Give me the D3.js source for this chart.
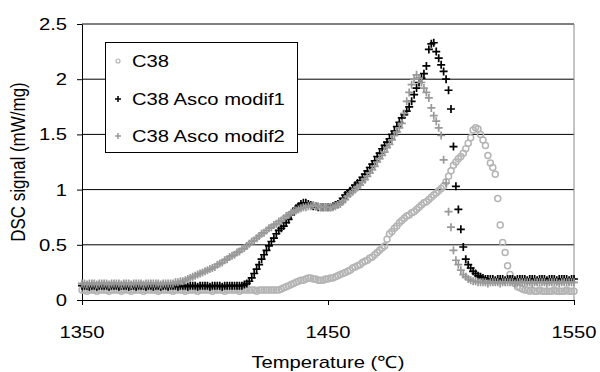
<!DOCTYPE html>
<html><head><meta charset="utf-8">
<script src="https://cdn.jsdelivr.net/npm/d3@7"></script>
<style>body{margin:0;background:#fff}svg{display:block}text{font-family:"Liberation Sans",Arial,sans-serif;fill:#000}</style>
</head><body><svg id="c" width="600" height="372"></svg>
<script>
const temperature = [
1350,1351,1352,1353,1354,1355,1356,1357,1358,1359,
1360,1361,1362,1363,1364,1365,1366,1367,1368,1369,
1370,1371,1372,1373,1374,1375,1376,1377,1378,1379,
1380,1381,1382,1383,1384,1385,1386,1387,1388,1389,
1390,1391,1392,1393,1394,1395,1396,1397,1398,1399,
1400,1401,1402,1403,1404,1405,1406,1407,1408,1409,
1410,1411,1412,1413,1414,1415,1416,1417,1418,1419,
1420,1421,1422,1423,1424,1425,1426,1427,1428,1429,
1430,1431,1432,1433,1434,1435,1436,1437,1438,1439,
1440,1441,1442,1443,1444,1445,1446,1447,1448,1449,
1450,1451,1452,1453,1454,1455,1456,1457,1458,1459,
1460,1461,1462,1463,1464,1465,1466,1467,1468,1469,
1470,1471,1472,1473,1474,1475,1476,1477,1478,1479,
1480,1481,1482,1483,1484,1485,1486,1487,1488,1489,
1490,1491,1492,1493,1494,1495,1496,1497,1498,1499,
1500,1501,1502,1503,1504,1505,1506,1507,1508,1509,
1510,1511,1512,1513,1514,1515,1516,1517,1518,1519,
1520,1521,1522,1523,1524,1525,1526,1527,1528,1529,
1530,1531,1532,1533,1534,1535,1536,1537,1538,1539,
1540,1541,1542,1543,1544,1545,1546,1547,1548,1549,
1550];

const c38 = [
0.09,0.09,0.08,0.09,0.09,0.09,0.08,0.09,0.09,0.09,
0.09,0.08,0.09,0.09,0.09,0.09,0.08,0.09,0.09,0.09,
0.08,0.09,0.09,0.09,0.09,0.08,0.09,0.09,0.09,0.09,
0.09,0.08,0.09,0.09,0.09,0.09,0.09,0.08,0.09,0.09,
0.09,0.09,0.08,0.09,0.09,0.09,0.09,0.08,0.09,0.09,
0.09,0.09,0.09,0.08,0.09,0.09,0.09,0.09,0.08,0.09,
0.09,0.09,0.09,0.09,0.08,0.09,0.09,0.09,0.09,0.09,
0.09,0.08,0.09,0.09,0.09,0.09,0.09,0.09,0.09,0.09,
0.09,0.10,0.11,0.12,0.13,0.14,0.15,0.16,0.17,0.18,
0.18,0.19,0.20,0.20,0.19,0.19,0.18,0.18,0.18,0.19,
0.19,0.20,0.20,0.21,0.22,0.23,0.24,0.25,0.26,0.27,
0.29,0.30,0.31,0.32,0.34,0.35,0.36,0.38,0.39,0.41,
0.43,0.45,0.47,0.49,0.55,0.60,0.62,0.65,0.67,0.70,
0.72,0.74,0.76,0.77,0.79,0.80,0.82,0.84,0.86,0.88,
0.89,0.91,0.93,0.95,0.97,0.99,1.01,1.03,1.07,1.12,
1.17,1.22,1.25,1.28,1.30,1.33,1.37,1.42,1.47,1.54,
1.56,1.55,1.50,1.45,1.40,1.31,1.24,1.20,1.14,0.92,
0.68,0.52,0.43,0.31,0.23,0.19,0.15,0.12,0.11,0.10,
0.09,0.09,0.08,0.09,0.08,0.08,0.09,0.08,0.08,0.08,
0.08,0.08,0.09,0.08,0.08,0.08,0.08,0.09,0.08,0.08,
0.08];

const ascoModif1 = [
0.13,0.13,0.13,0.12,0.13,0.13,0.12,0.13,0.13,0.13,
0.13,0.12,0.13,0.13,0.13,0.12,0.13,0.13,0.13,0.12,
0.13,0.13,0.12,0.13,0.13,0.13,0.12,0.13,0.13,0.12,
0.13,0.13,0.12,0.13,0.13,0.12,0.13,0.13,0.13,0.12,
0.13,0.13,0.13,0.12,0.13,0.13,0.13,0.12,0.13,0.13,
0.13,0.13,0.12,0.13,0.13,0.13,0.13,0.12,0.13,0.13,
0.13,0.13,0.13,0.13,0.13,0.13,0.14,0.15,0.17,0.20,
0.24,0.28,0.32,0.37,0.41,0.45,0.49,0.53,0.56,0.60,
0.63,0.65,0.67,0.70,0.73,0.77,0.80,0.83,0.85,0.87,
0.88,0.88,0.87,0.86,0.85,0.85,0.84,0.84,0.84,0.84,
0.84,0.84,0.85,0.86,0.87,0.89,0.92,0.95,0.97,0.99,
1.01,1.04,1.06,1.08,1.11,1.14,1.17,1.20,1.23,1.26,
1.30,1.33,1.37,1.40,1.43,1.46,1.50,1.53,1.57,1.61,
1.65,1.68,1.71,1.75,1.80,1.86,1.92,1.97,2.01,2.05,
2.12,2.27,2.32,2.33,2.25,2.19,2.13,2.07,2.00,1.90,
1.73,1.39,1.03,0.82,0.64,0.48,0.37,0.32,0.29,0.26,
0.24,0.22,0.21,0.20,0.19,0.19,0.19,0.19,0.18,0.19,
0.19,0.19,0.18,0.19,0.19,0.19,0.18,0.19,0.19,0.19,
0.19,0.18,0.19,0.19,0.19,0.18,0.19,0.19,0.19,0.18,
0.19,0.19,0.19,0.18,0.19,0.19,0.19,0.19,0.18,0.19,
0.19];

const ascoModif2 = [
0.15,0.15,0.14,0.15,0.15,0.15,0.14,0.15,0.15,0.15,
0.15,0.14,0.15,0.15,0.15,0.15,0.14,0.15,0.15,0.15,
0.14,0.15,0.15,0.15,0.15,0.14,0.15,0.15,0.15,0.15,
0.15,0.15,0.14,0.15,0.15,0.15,0.15,0.15,0.16,0.16,
0.17,0.17,0.18,0.19,0.20,0.21,0.22,0.23,0.24,0.25,
0.26,0.27,0.28,0.29,0.30,0.32,0.33,0.34,0.36,0.37,
0.39,0.40,0.41,0.43,0.44,0.46,0.47,0.49,0.51,0.53,
0.54,0.56,0.58,0.60,0.61,0.63,0.65,0.66,0.68,0.69,
0.71,0.72,0.74,0.76,0.77,0.79,0.80,0.81,0.82,0.83,
0.84,0.84,0.85,0.85,0.86,0.85,0.85,0.84,0.84,0.84,
0.84,0.84,0.84,0.85,0.86,0.87,0.89,0.91,0.94,0.96,
0.98,1.00,1.02,1.04,1.07,1.09,1.12,1.15,1.18,1.21,
1.25,1.28,1.31,1.34,1.38,1.41,1.45,1.49,1.52,1.56,
1.60,1.69,1.80,1.88,1.95,2.00,2.04,2.01,1.97,1.92,
1.88,1.83,1.74,1.67,1.62,1.56,1.49,1.27,1.06,0.80,
0.66,0.45,0.36,0.32,0.27,0.23,0.21,0.19,0.18,0.17,
0.17,0.16,0.16,0.16,0.16,0.15,0.16,0.16,0.16,0.16,
0.15,0.16,0.16,0.16,0.16,0.16,0.15,0.16,0.16,0.16,
0.16,0.16,0.16,0.15,0.16,0.16,0.16,0.16,0.16,0.15,
0.16,0.16,0.16,0.16,0.15,0.16,0.16,0.16,0.16,0.16,
0.16];

const seriesNames = ["C38", "C38 Asco modif1", "C38 Asco modif2"];
const xTicks = [1350, 1450, 1550];
const yTicks = [0, 0.5, 1, 1.5, 2, 2.5];
const yTickLabels = ["0", "0.5", "1", "1.5", "2", "2.5"];
const xTitle = "Temperature (\u2103)";
const yTitle = "DSC signal (mW/mg)";

const svg = d3.select("#c");
const L = 82, R = 574, T = 24, B = 300;
const x = d3.scaleLinear().domain([1350, 1550]).range([L, R]);
const y = d3.scaleLinear().domain([0, 2.5]).range([B, T]);
const SX = 1.19, FS = 17;

// gridlines
svg.append("g").selectAll("line").data(yTicks.filter(d => d > 0)).join("line")
  .attr("x1", L).attr("x2", R).attr("y1", d => y(d)).attr("y2", d => y(d))
  .attr("stroke", "#000").attr("stroke-width", 1);
// right border
svg.append("line").attr("x1", R).attr("x2", R).attr("y1", T).attr("y2", B)
  .attr("stroke", "#888").attr("stroke-width", 1);

// axes
const xa = svg.append("g").attr("transform", `translate(0,${B})`)
  .call(d3.axisBottom(x).tickValues(xTicks).tickSize(5).tickSizeOuter(0).tickFormat(""));
const ya = svg.append("g").attr("transform", `translate(${L},0)`)
  .call(d3.axisLeft(y).tickValues(yTicks).tickSize(5).tickSizeOuter(0).tickFormat(""));
svg.selectAll(".domain, .tick line").attr("stroke", "#000").attr("stroke-width", 1);

// tick labels
svg.append("g").selectAll("text").data(xTicks).join("text")
  .attr("transform", d => `translate(${x(d)},338) scale(${SX},1)`)
  .attr("text-anchor", "middle").attr("font-size", FS).text(d => d);
svg.append("g").selectAll("text").data(yTicks).join("text")
  .attr("transform", d => `translate(67,${y(d)}) scale(${SX},1)`)
  .attr("text-anchor", "end").attr("dy", "0.35em").attr("font-size", FS)
  .text((d, i) => yTickLabels[i]);

// titles
svg.append("text").attr("transform", `translate(${(L + R) / 2},368) scale(${SX},1)`)
  .attr("text-anchor", "middle").attr("font-size", FS).text(xTitle);
svg.append("text").attr("transform", `translate(25,${(T + B) / 2}) scale(${SX},1) rotate(-90)`)
  .attr("text-anchor", "middle").attr("font-size", FS).text(yTitle);

// series
const plus = "M-4,0H4M0,-4V4";
const plot = svg.append("g");
plot.append("g").selectAll("circle").data(temperature).join("circle")
  .attr("cx", d => x(d)).attr("cy", (d, i) => y(c38[i])).attr("r", 3)
  .attr("fill", "none").attr("stroke", "#b4b4b4").attr("stroke-width", 1.5);
plot.append("g").selectAll("path").data(temperature).join("path")
  .attr("transform", (d, i) => `translate(${x(d)},${y(ascoModif1[i])})`)
  .attr("d", plus).attr("stroke", "#000").attr("stroke-width", 1.7);
plot.append("g").selectAll("path").data(temperature).join("path")
  .attr("transform", (d, i) => `translate(${x(d)},${y(ascoModif2[i])})`)
  .attr("d", plus).attr("stroke", "#999").attr("stroke-width", 1.7);

// legend
const lg = svg.append("g");
lg.append("rect").attr("x", 105.5).attr("y", 42.5).attr("width", 192).attr("height", 110)
  .attr("fill", "#fff").attr("stroke", "#000").attr("stroke-width", 1);
const rowY = [61, 99, 136];
lg.append("circle").attr("cx", 118).attr("cy", rowY[0]).attr("r", 2)
  .attr("fill", "none").attr("stroke", "#b4b4b4").attr("stroke-width", 1.2);
lg.append("path").attr("transform", `translate(118,${rowY[1]})`).attr("d", "M-3,0H3M0,-3V3")
  .attr("stroke", "#000").attr("stroke-width", 1.5);
lg.append("path").attr("transform", `translate(118,${rowY[2]})`).attr("d", "M-3,0H3M0,-3V3")
  .attr("stroke", "#999").attr("stroke-width", 1.5);
lg.selectAll("text.l").data(seriesNames).join("text").attr("class", "l")
  .attr("transform", (d, i) => `translate(132,${rowY[i]}) scale(${SX},1)`)
  .attr("dy", "0.35em").attr("font-size", FS).text(d => d);
</script></body></html>
